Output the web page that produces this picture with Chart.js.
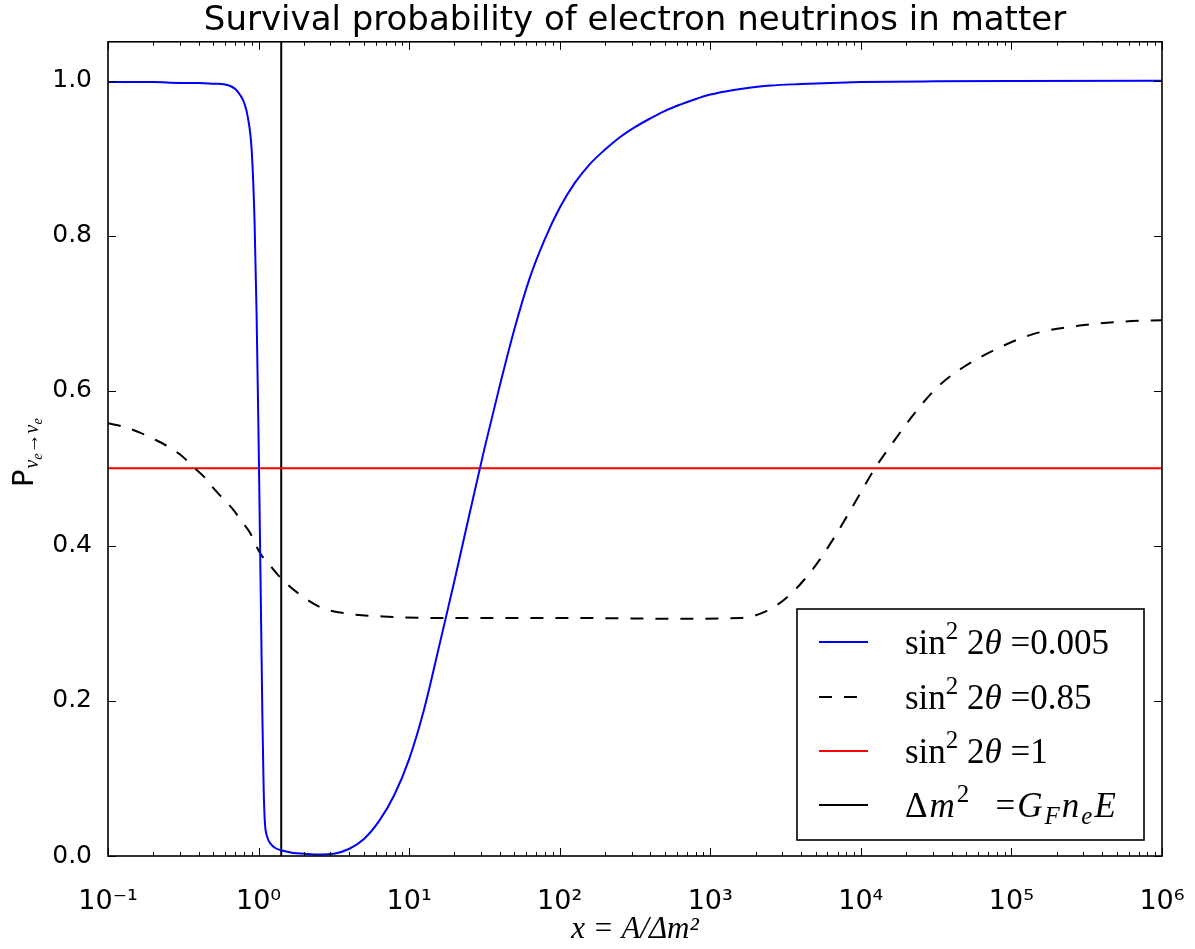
<!DOCTYPE html>
<html><head><meta charset="utf-8">
<script src="https://cdn.jsdelivr.net/npm/chart.js@4.4.1/dist/chart.umd.min.js"></script>
<style>html,body{margin:0;padding:0;background:#fff}#wrap{width:1195px;height:949px}</style>
</head><body><div id="wrap"><canvas id="c" width="1195" height="949"></canvas></div>
<script>
// ---- data ----
const titleText = 'Survival probability of electron neutrinos in matter';
const xTickValues = [0.1, 1, 10, 100, 1000, 10000, 100000, 1000000];
const xTickLabels = ['10\u207B\u00B9', '10\u2070', '10\u00B9', '10\u00B2', '10\u00B3', '10\u2074', '10\u2075', '10\u2076'];
const yTickValues = [0.0, 0.2, 0.4, 0.6, 0.8, 1.0];

const blueX = [0.1, 0.15, 0.2, 0.3, 0.4, 0.5, 0.6, 0.65, 0.7, 0.75, 0.8, 0.85, 0.9, 0.94, 0.97, 1.0, 1.02, 1.04, 1.06, 1.08, 1.1, 1.14, 1.2, 1.3, 1.43, 1.7, 2.0, 2.51, 3.16, 3.98, 5.01, 6.31, 7.94, 10, 12.6, 15.8, 20, 25.1, 31.6, 39.8, 50.1, 63.1, 79.4, 100, 126, 158, 200, 251, 316, 398, 501, 631, 794, 1000, 1259, 1585, 2512, 3981, 6310, 10000, 31623, 100000, 1000000];
const blueY = [0.998, 0.998, 0.998, 0.997, 0.997, 0.996, 0.995, 0.993, 0.989, 0.982, 0.972, 0.952, 0.91, 0.82, 0.70, 0.54, 0.42, 0.30, 0.18, 0.09, 0.045, 0.025, 0.016, 0.010, 0.007, 0.004, 0.003, 0.002, 0.003, 0.009, 0.022, 0.045, 0.078, 0.125, 0.19, 0.27, 0.355, 0.44, 0.525, 0.605, 0.68, 0.745, 0.795, 0.836, 0.868, 0.892, 0.911, 0.927, 0.940, 0.951, 0.961, 0.969, 0.976, 0.982, 0.986, 0.989, 0.9935, 0.9955, 0.997, 0.998, 0.999, 0.9995, 0.9998];

const dashX = [0.1, 0.13, 0.163, 0.2, 0.246, 0.3, 0.378, 0.44, 0.498, 0.58, 0.676, 0.77, 0.877, 1.02, 1.2, 1.43, 1.8, 2.56, 4.05, 6.7, 14.4, 38, 100, 628, 1574, 2377, 3380, 4800, 6520, 9400, 12400, 16300, 22100, 32000, 47600, 80000, 139000, 284000, 525000, 1000000];
const dashY = [0.558, 0.553, 0.546, 0.538, 0.529, 0.518, 0.5, 0.488, 0.475, 0.461, 0.447, 0.432, 0.417, 0.391, 0.374, 0.357, 0.340, 0.321, 0.312, 0.309, 0.307, 0.307, 0.307, 0.306, 0.307, 0.316, 0.337, 0.370, 0.408, 0.460, 0.5, 0.533, 0.568, 0.604, 0.630, 0.654, 0.673, 0.684, 0.689, 0.691];

const redX = [0.1, 1000000];
const redY = [0.5, 0.5];

const vlineX = [1.414, 1.414];
const vlineY = [0, 1.05];

const seriesLabels = ['sin\u00B2 2\u03B8 =0.005', 'sin\u00B2 2\u03B8 =0.85', 'sin\u00B2 2\u03B8 =1', '\u0394m\u00B2  =G_F n_e E'];
const seriesColors = ['#0000ff', '#000000', '#ff0000', '#000000'];
// ---------------------------------------

const pts = (xs, ys) => xs.map((v, i) => ({x: v, y: ys[i]}));

const legendRuns = [
  [{t:'sin'},{t:'2',sup:1},{t:' 2'},{t:'\u03B8',it:1},{t:' =0.005'}],
  [{t:'sin'},{t:'2',sup:1},{t:' 2'},{t:'\u03B8',it:1},{t:' =0.85'}],
  [{t:'sin'},{t:'2',sup:1},{t:' 2'},{t:'\u03B8',it:1},{t:' =1'}],
  [{t:'\u0394'},{t:'m',it:1},{t:'2',sup:1},{t:'   ='},{t:'G',it:1},{t:'F',it:1,sub:1},{t:'n',it:1},{t:'e',it:1,sub:1},{t:'E',it:1}]
];

const decor = {
  id: 'decor',
  afterDatasetsDraw(chart) {
    const {ctx, chartArea: a, scales: {x, y}} = chart;
    ctx.save();
    // inward ticks
    ctx.strokeStyle = '#000'; ctx.lineWidth = 1;
    ctx.beginPath();
    for (const v of xTickValues) {
      const px = Math.round(x.getPixelForValue(v)) + 0.5;
      ctx.moveTo(px, a.bottom); ctx.lineTo(px, a.bottom - 8);
      ctx.moveTo(px, a.top); ctx.lineTo(px, a.top + 8);
    }
    for (let k = -1; k < 6; k++) {
      for (let m = 2; m <= 9; m++) {
        const px = Math.round(x.getPixelForValue(m * Math.pow(10, k))) + 0.5;
        ctx.moveTo(px, a.bottom); ctx.lineTo(px, a.bottom - 4);
        ctx.moveTo(px, a.top); ctx.lineTo(px, a.top + 4);
      }
    }
    for (const v of yTickValues) {
      const py = Math.round(y.getPixelForValue(v)) + 0.5;
      ctx.moveTo(a.left, py); ctx.lineTo(a.left + 8, py);
      ctx.moveTo(a.right, py); ctx.lineTo(a.right - 8, py);
    }
    ctx.stroke();
    // frame
    ctx.lineWidth = 1.6;
    ctx.strokeRect(a.left, a.top, a.right - a.left, a.bottom - a.top);

    // legend
    const bx = 797, by = 609, bw = 347, bh = 231;
    ctx.fillStyle = '#fff';
    ctx.fillRect(bx, by, bw, bh);
    ctx.lineWidth = 1.6; ctx.strokeStyle = '#000';
    ctx.strokeRect(bx, by, bw, bh);
    const rowY = [642, 697, 751, 805];
    const dashes = [[], [13, 12], [], []];
    const fs = 35;
    rowY.forEach((ry, i) => {
      ctx.beginPath();
      ctx.setLineDash(dashes[i]);
      ctx.strokeStyle = seriesColors[i]; ctx.lineWidth = 2;
      ctx.moveTo(819, ry); ctx.lineTo(868, ry);
      ctx.stroke();
      ctx.setLineDash([]);
      let tx = 905;
      const base = ry + 12;
      ctx.fillStyle = '#000';
      ctx.textBaseline = 'alphabetic'; ctx.textAlign = 'left';
      for (const r of legendRuns[i]) {
        const size = (r.sup || r.sub) ? Math.round(fs * 0.7) : fs;
        ctx.font = (r.it ? 'italic ' : '') + size + 'px "Liberation Serif", "DejaVu Serif", serif';
        const dy = r.sup ? -fs * 0.42 : (r.sub ? fs * 0.2 : 0);
        ctx.fillText(r.t, tx, base + dy);
        tx += ctx.measureText(r.t).width + (i === 3 && !r.sup ? 2 : 0);
      }
    });

    // y-axis label: P with subscript nu_e -> nu_e
    ctx.save();
    ctx.translate(33, 487);
    ctx.rotate(-Math.PI / 2);
    ctx.fillStyle = '#000';
    ctx.textBaseline = 'alphabetic'; ctx.textAlign = 'left';
    ctx.font = '29px "DejaVu Sans", sans-serif';
    ctx.fillText('P', 0, 0);
    let u = ctx.measureText('P').width + 1;
    const subRuns = [{t:'\u03BD', s:20, d:5}, {t:'e', s:14, d:9}, {t:'\u2192', s:20, d:5, up:1}, {t:'\u03BD', s:20, d:5}, {t:'e', s:14, d:9}];
    for (const r of subRuns) {
      ctx.font = (r.up ? '' : 'italic ') + r.s + 'px "Liberation Serif", "DejaVu Serif", serif';
      ctx.fillText(r.t, u, r.d);
      u += ctx.measureText(r.t).width;
    }
    ctx.restore();
    ctx.restore();
  }
};

new Chart(document.getElementById('c'), {
  type: 'line',
  data: {
    datasets: [
      {label: seriesLabels[0], data: pts(blueX, blueY), borderColor: seriesColors[0], borderWidth: 2, pointRadius: 0, cubicInterpolationMode: 'monotone', fill: false},
      {label: seriesLabels[1], data: pts(dashX, dashY), borderColor: seriesColors[1], borderWidth: 2, borderDash: [13, 12], pointRadius: 0, cubicInterpolationMode: 'monotone', fill: false},
      {label: seriesLabels[2], data: pts(redX, redY), borderColor: seriesColors[2], borderWidth: 2, pointRadius: 0, fill: false},
      {label: seriesLabels[3], data: pts(vlineX, vlineY), borderColor: seriesColors[3], borderWidth: 2, pointRadius: 0, fill: false}
    ]
  },
  options: {
    responsive: false,
    animation: false,
    devicePixelRatio: 1,
    layout: {padding: {left: 0, right: 33, top: 0, bottom: 0}},
    plugins: {
      legend: {display: false},
      tooltip: {enabled: false},
      title: {
        display: true, text: titleText, color: '#000', fullSize: false,
        font: {family: '"DejaVu Sans", sans-serif', size: 34, weight: 'normal', lineHeight: 1.2},
        padding: {top: 1, bottom: 0}
      }
    },
    scales: {
      x: {
        type: 'logarithmic', min: 0.1, max: 1000000,
        grid: {display: false}, border: {display: false},
        afterBuildTicks: (s) => { s.ticks = xTickValues.map(v => ({value: v})); },
        afterFit: (s) => { s.height = 93; s.paddingLeft = 0; s.paddingRight = 0; },
        ticks: {
          color: '#000', padding: 22, maxRotation: 0, autoSkip: false,
          font: {family: '"DejaVu Sans", sans-serif', size: 27},
          callback: (v) => { const i = xTickValues.indexOf(v); return i >= 0 ? xTickLabels[i] : ''; }
        },
        title: {
          display: true, text: 'x = A/\u0394m\u00B2', color: '#000',
          font: {family: '"Liberation Serif", "DejaVu Serif", serif', size: 31, style: 'italic', lineHeight: 1.2},
          padding: {top: 0, bottom: 1}
        }
      },
      y: {
        type: 'linear', min: 0, max: 1.05,
        grid: {display: false}, border: {display: false},
        afterBuildTicks: (s) => { s.ticks = yTickValues.map(v => ({value: v})); },
        afterFit: (s) => { s.width = 108; s.paddingTop = 0; s.paddingBottom = 0; },
        ticks: {
          color: '#000', padding: 8,
          font: {family: '"DejaVu Sans", sans-serif', size: 25},
          callback: (v) => Number(v).toFixed(1)
        }
      }
    }
  },
  plugins: [decor]
});
</script>
</body></html>
